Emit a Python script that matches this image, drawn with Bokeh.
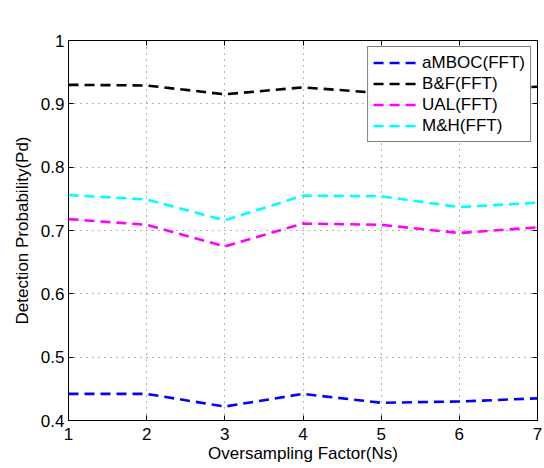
from bokeh.plotting import figure
from bokeh.models import LinearAxis, FixedTicker, Legend, LegendItem, Range1d, Label
from bokeh.embed import file_html
from bokeh.resources import INLINE

ns = [1, 2, 3, 4, 5, 6, 7]
ambOC = [0.442, 0.442, 0.422, 0.442, 0.428, 0.430, 0.435]
bf = [0.930, 0.929, 0.915, 0.926, 0.917, 0.921, 0.927]
ual = [0.718, 0.709, 0.675, 0.711, 0.709, 0.696, 0.705]
mh = [0.756, 0.749, 0.716, 0.755, 0.754, 0.737, 0.744]
names = ["aMBOC(FFT)", "B&F(FFT)", "UAL(FFT)", "M&H(FFT)"]
colors = ["#0000ff", "#000000", "#ff00ff", "#00ffff"]
yticks = [0.4, 0.5, 0.6, 0.7, 0.8, 0.9, 1.0]
ytick_labels = ["0.4", "0.5", "0.6", "0.7", "0.8", "0.9", "1"]
title_text = "Ns Vs Pd (DSB), CNR=30 dB\u2212Hz, Pfa=1e\u22123"

FONT = "Liberation Sans"
FS = "17px"

p = figure(width=544, height=468, output_backend="svg", toolbar_location=None,
           x_range=Range1d(1, 7), y_range=Range1d(0.4, 1.0),
           min_border_left=68, min_border_right=7, min_border_top=40, min_border_bottom=48)
p.title = None
p.outline_line_color = "black"
p.outline_line_width = 1
p.background_fill_color = "white"
p.border_fill_color = "white"

series = [ambOC, bf, ual, mh]
renderers = []
for vals, c in zip(series, colors):
    r = p.line(ns, vals, line_color=c, line_width=2.6, line_dash="10 6")
    renderers.append(r)

for ax in (p.xaxis[0], p.yaxis[0]):
    ax.major_tick_in = 5
    ax.major_tick_out = 0
    ax.minor_tick_line_color = None
    ax.axis_line_color = "black"
    ax.major_tick_line_color = "black"
    ax.major_label_text_font = FONT
    ax.major_label_text_font_size = FS
    ax.major_label_text_color = "black"
    ax.axis_label_text_font = FONT
    ax.axis_label_text_font_size = FS
    ax.axis_label_text_font_style = "normal"
    ax.axis_label_text_color = "black"

p.xaxis[0].ticker = FixedTicker(ticks=ns)
p.yaxis[0].ticker = FixedTicker(ticks=yticks)
p.yaxis[0].major_label_overrides = {v: s for v, s in zip(yticks, ytick_labels)}
p.xaxis[0].axis_label = "Oversampling Factor(Ns)"
p.yaxis[0].axis_label = "Detection Probability(Pd)"
p.xaxis[0].axis_label_standoff = 1
p.yaxis[0].axis_label_standoff = 6
p.xaxis[0].major_label_standoff = 7
p.yaxis[0].major_label_standoff = 4

top = LinearAxis(ticker=FixedTicker(ticks=ns), major_tick_in=5, major_tick_out=0,
                 minor_tick_line_color=None, major_label_text_font_size="0px",
                 major_label_text_color=None)
right = LinearAxis(ticker=FixedTicker(ticks=yticks), major_tick_in=5, major_tick_out=0,
                   minor_tick_line_color=None, major_label_text_font_size="0px",
                   major_label_text_color=None)
p.add_layout(top, "above")
p.add_layout(right, "right")

title_label = Label(x=4, y=1.0, x_units="data", y_units="data", y_offset=23,
                    text=title_text, text_align="center", text_baseline="middle",
                    text_font=FONT, text_font_size="16.5px", text_color="black")
p.add_layout(title_label)

p.xgrid.ticker = FixedTicker(ticks=ns)
p.ygrid.ticker = FixedTicker(ticks=yticks)
for g in (p.xgrid[0], p.ygrid[0]):
    g.grid_line_color = "black"
    g.grid_line_alpha = 0.6
    g.grid_line_dash = "1 5"
    g.grid_line_width = 1

legend = Legend(items=[LegendItem(label=n, renderers=[r]) for n, r in zip(names, renderers)],
                location="top_right")
legend.label_text_font = FONT
legend.label_text_font_size = FS
legend.label_text_color = "black"
legend.border_line_color = "black"
legend.border_line_width = 1.5
legend.background_fill_alpha = 1
legend.glyph_width = 45
legend.glyph_height = 21
legend.label_standoff = 4
legend.spacing = 0
legend.padding = 5
legend.margin = 6
legend.label_height = 21
p.add_layout(legend, "center")

open("out.html", "w").write(file_html(p, INLINE))
